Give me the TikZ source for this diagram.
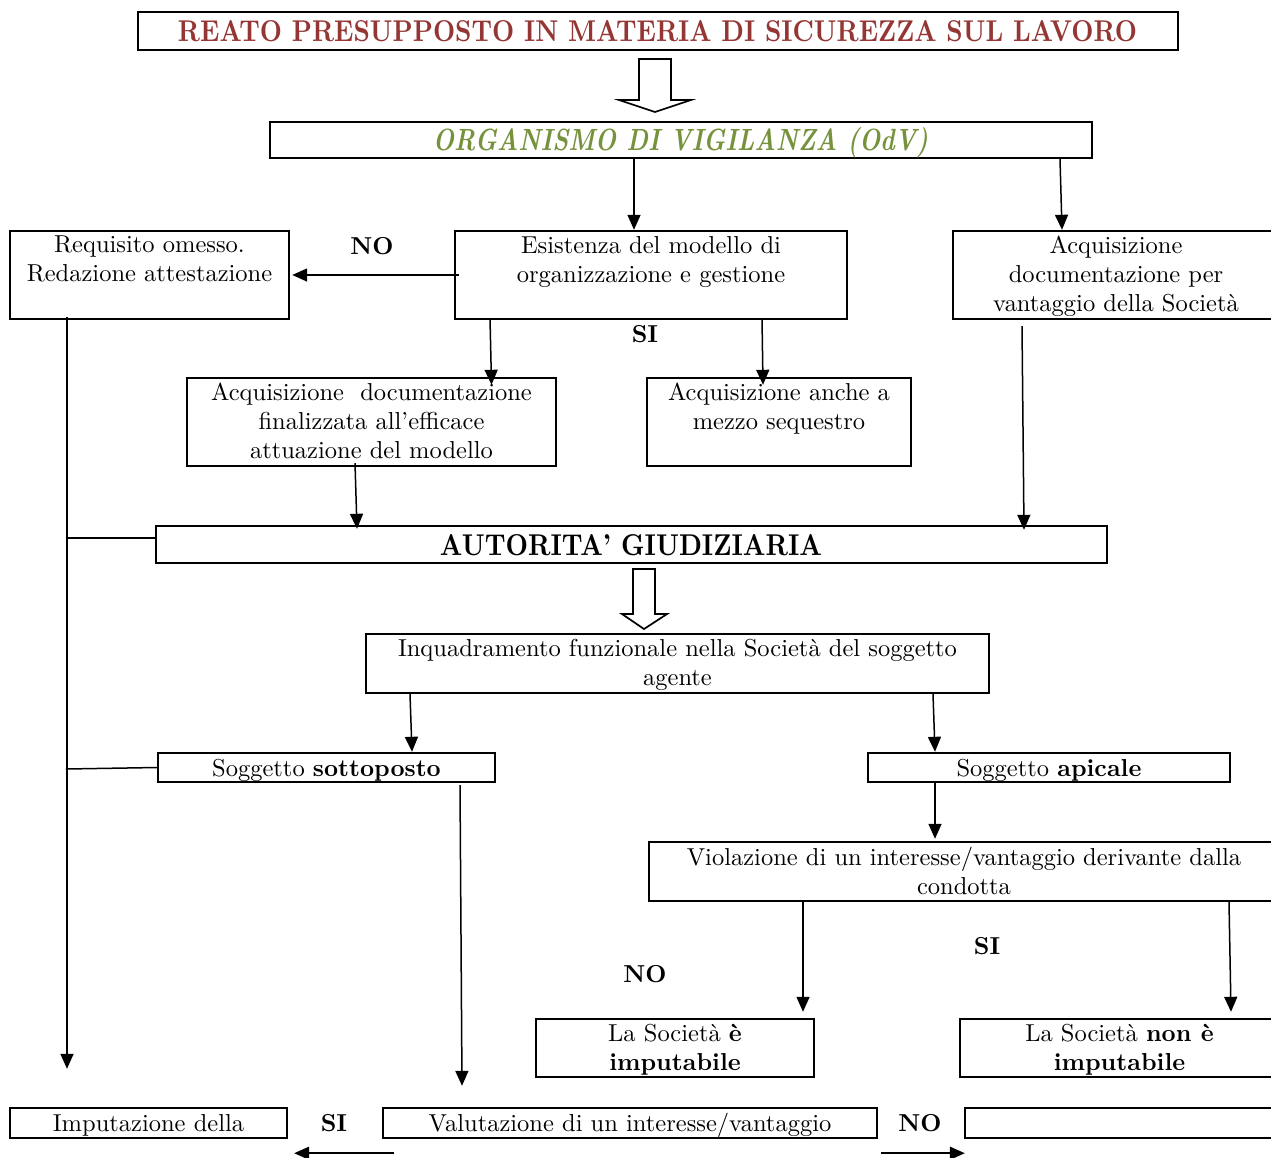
\documentclass[tikz,border=0pt]{standalone}
\usepackage{fontspec}
\usepackage{graphicx}
\usetikzlibrary{arrows.meta,calc}
\definecolor{titlered}{HTML}{943634}
\definecolor{odvgreen}{HTML}{76923C}
\newfontfamily\lmten{lmroman10-regular.otf}[BoldFont=lmroman10-bold.otf, ItalicFont=lmroman10-italic.otf, BoldItalicFont=lmroman10-bolditalic.otf]
\newcommand\bodyfont{\lmten\fontsize{24.5}{29}\selectfont}
\begin{document}
\begin{tikzpicture}[x=1pt,y=-1pt,
  box/.style={draw, line width=2.4pt, inner sep=0pt, rectangle},
  txt/.style={inner sep=0pt, align=center, font=\bodyfont, execute at begin node=\strut, anchor=north},
  lbl/.style={inner sep=0pt, font=\bodyfont\bfseries},
  conn/.style={line width=1.5pt, -{Triangle[length=15pt,width=13pt]}},
  plainline/.style={line width=1.5pt},
  block/.style={draw, line width=1.7pt, fill=white, line join=miter}]
\useasboundingbox (0,0) rectangle (1271,1157);

% boxes
\node[box, minimum width=1040pt, minimum height=38pt] (title) at (658,31) {};
\node[box, minimum width=822pt, minimum height=36pt] (odv) at (681,140) {};
\node[box, minimum width=279pt, minimum height=88pt] (req) at (149.5,275) {};
\node[box, minimum width=392pt, minimum height=88pt] (esi) at (651,275) {};
\node[box, minimum width=326pt, minimum height=88pt] (van) at (1116,275) {};
\node[box, minimum width=369pt, minimum height=88pt] (fin) at (371.5,422) {};
\node[box, minimum width=264pt, minimum height=88pt] (seq) at (779,422) {};
\node[box, minimum width=951pt, minimum height=37pt] (ag) at (631.5,544.5) {};
\node[box, minimum width=623pt, minimum height=59pt] (inq) at (677.5,663.5) {};
\node[box, minimum width=337pt, minimum height=29pt] (sot) at (326.5,767.5) {};
\node[box, minimum width=362pt, minimum height=29pt] (api) at (1049,767.5) {};
\node[box, minimum width=630pt, minimum height=59pt] (vio) at (964,871.5) {};
\node[box, minimum width=278pt, minimum height=58pt] (imp) at (675,1048) {};
\node[box, minimum width=319pt, minimum height=58pt] (nimp) at (1119.5,1048) {};
\node[box, minimum width=277pt, minimum height=30pt] (imz) at (148.5,1123) {};
\node[box, minimum width=494pt, minimum height=30pt] (val) at (630,1123) {};
\node[box, minimum width=314pt, minimum height=30pt] (emp) at (1122,1123) {};

% box texts
\node[inner sep=0pt, anchor=base, text=titlered] (title-t) at (657.5,41)
  {\resizebox{959pt}{21pt}{\lmten\bfseries REATO PRESUPPOSTO IN MATERIA DI SICUREZZA SUL LAVORO}};
\node[inner sep=0pt, anchor=base, text=odvgreen] (odv-t) at (680.5,150)
  {\resizebox{495pt}{23pt}{\lmten\bfseries\itshape ORGANISMO DI VIGILANZA (OdV)}};
\node[inner sep=0pt, anchor=base] (ag-t) at (631,555)
  {\resizebox{382pt}{21pt}{\lmten\bfseries AUTORITA’ GIUDIZIARIA}};
\node[txt] (req-t) at ([yshift=-6pt]req.north) {Requisito omesso.\\Redazione attestazione};
\node[txt] (esi-t) at ([yshift=-6pt]esi.north) {Esistenza del modello di\\organizzazione e gestione};
\node[txt] (van-t) at ([yshift=-6pt]van.north) {Acquisizione\\documentazione per\\vantaggio della Società};
\node[txt] (fin-t) at ([yshift=-6pt]fin.north) {Acquisizione\ \ documentazione\\finalizzata all’efficace\\attuazione del modello};
\node[txt] (seq-t) at ([yshift=-6pt]seq.north) {Acquisizione anche a\\mezzo sequestro};
\node[txt] (inq-t) at ([yshift=-6pt]inq.north) {Inquadramento funzionale nella Società del soggetto\\agente};
\node[txt] (sot-t) at ([yshift=-4pt]sot.north) {Soggetto \textbf{sottoposto}};
\node[txt] (api-t) at ([yshift=-4pt]api.north) {Soggetto \textbf{apicale}};
\node[txt] (vio-t) at ([yshift=-6pt]vio.north) {Violazione di un interesse/vantaggio derivante dalla\\condotta};
\node[txt] (imp-t) at ([yshift=-6pt]imp.north) {La Società \textbf{è}\\\textbf{imputabile}};
\node[txt] (nimp-t) at ([yshift=-6pt]nimp.north) {La Società \textbf{non è}\\\textbf{imputabile}};
\node[txt] (imz-t) at ([yshift=-4pt]imz.north) {Imputazione della};
\node[txt] (val-t) at ([yshift=-4pt]val.north) {Valutazione di un interesse/vantaggio};

% labels
\node[lbl] (no1) at (372,246) {NO};
\node[lbl] (si1) at (645,334) {SI};
\node[lbl] (si2) at (987,946) {SI};
\node[lbl] (no2) at (645,974) {NO};
\node[lbl] (si3) at (334,1123) {SI};
\node[lbl] (no3) at (920,1123) {NO};

% block arrows
\draw[block] (639,59) -- (671,59) -- (671,100) -- (691,100) -- (655,112) -- (619,100) -- (639,100) -- cycle;
\draw[block] (633,569) -- (655,569) -- (655,614) -- (667,614) -- (644,629) -- (622,614) -- (633,614) -- cycle;

% connectors
\draw[conn] ([xshift=-47pt]odv.south) -- ([xshift=-17pt]esi.north);
\draw[conn] ([xshift=379pt]odv.south) -- ([xshift=-54pt]van.north);
\draw[conn] ([xshift=5pt]esi.west) -- ([xshift=2pt]req.east);
\draw[conn] ([xshift=-161pt,yshift=2pt]esi.south) -- ([xshift=120pt,yshift=-8pt]fin.north);
\draw[conn] ([xshift=111pt,yshift=2pt]esi.south) -- ([xshift=-16pt,yshift=-8pt]seq.north);
\draw[conn] ([xshift=-94pt,yshift=-6pt]van.south) -- ([xshift=392.5pt,yshift=-5pt]ag.north);
\draw[conn] ([xshift=-16.5pt,yshift=4pt]fin.south) -- ([xshift=-274.5pt,yshift=-4pt]ag.north);
\draw[conn] ([xshift=-82.5pt,yshift=3pt]req.south) -- ([xshift=-81.5pt,yshift=38pt]imz.north);
\draw[plainline] ([yshift=6.5pt]ag.west) -- ++(-89,0);
\draw[plainline] (sot.west) -- ++(-91,1.5);
\draw[conn] ([xshift=-267.5pt]inq.south) -- ([xshift=85.5pt]sot.north);
\draw[conn] ([xshift=255.5pt]inq.south) -- ([xshift=-114pt]api.north);
\draw[conn] ([xshift=-114pt]api.south) -- ([xshift=-29pt,yshift=2pt]vio.north);
\draw[conn] ([xshift=-161pt]vio.south) -- ([xshift=128pt,yshift=6pt]imp.north);
\draw[conn] ([xshift=265pt]vio.south) -- ([xshift=111.5pt,yshift=6pt]nimp.north);
\draw[conn] ([xshift=133.5pt,yshift=-2pt]sot.south) -- ([xshift=-168pt,yshift=21pt]val.north);
\draw[conn] ([xshift=12pt,yshift=-14pt]val.south west) -- ([xshift=6pt,yshift=-14pt]imz.south east);
\draw[conn] ([xshift=3pt,yshift=-14pt]val.south east) -- ([xshift=1pt,yshift=-14pt]emp.south west);
\end{tikzpicture}
\end{document}
